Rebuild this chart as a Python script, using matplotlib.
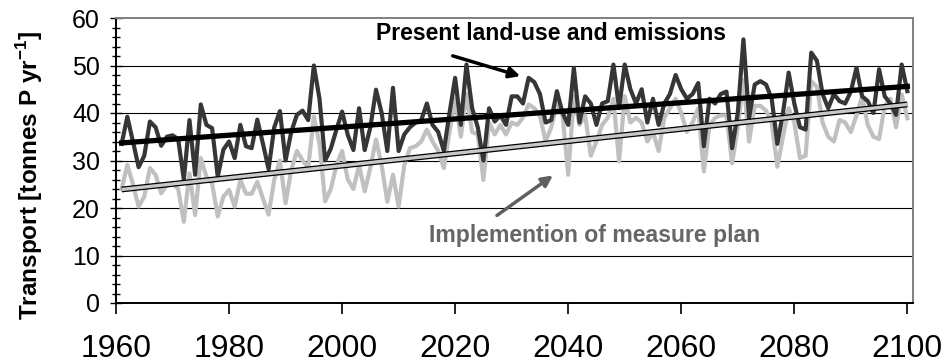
import numpy as np
from matplotlib import use
use('Agg')
import matplotlib.pyplot as plt
from matplotlib.ticker import MultipleLocator

plt.rcParams['font.family'] = ['Liberation Sans', 'DejaVu Sans']
plt.rcParams['mathtext.fontset'] = 'custom'
plt.rcParams['mathtext.rm'] = 'Liberation Sans'
plt.rcParams['mathtext.bf'] = 'Liberation Sans:bold'

# annual transport (1961 - 2100)
years = np.arange(1961, 2101)

present = [
    33.5, 39.2, 34, 28.6, 31, 38.2, 37, 33.1, 35, 35.3,
    34.5, 26, 38.5, 27, 41.8, 37.5, 36.8, 26.6, 32.3, 34,
    30.5, 37.5, 33, 32.6, 38.6, 33.5, 28.2, 37, 40.4, 30,
    36, 39.6, 40.5, 38.5, 50, 43, 30, 32.5, 36.5, 40.3,
    35.4, 32.2, 41, 32.2, 37, 44.9, 40, 32, 45.3, 32,
    35.5, 37, 38, 38.5, 42, 37.5, 36, 32, 40, 47.4,
    37.5, 50.2, 41, 37, 30, 41, 38.2, 39.5, 37.5, 43.5,
    43.5, 42, 47.4, 46.5, 44, 38, 38.5, 44.6, 40, 37.5,
    49.5, 38, 43.5, 42, 37.5, 42, 42.5, 50.2, 41, 50.2,
    45, 42, 45, 38, 43, 37.5, 42, 44, 48, 45,
    43, 44, 46.3, 33, 43, 42, 44, 44.5, 32.6, 40,
    55.5, 39, 46, 46.7, 46, 43, 33.5, 40, 48.5, 42,
    37, 36.5, 52.7, 51, 44, 41, 44, 42.5, 42, 44.5,
    49.5, 43.5, 42.5, 40, 49.2, 43.5, 42, 39.6, 50.2, 44.6,
]

measure = [
    24, 29.1, 25, 20.3, 22.4, 28.4, 27, 23.1, 24.9, 25.2,
    24, 17.1, 27.3, 18.5, 30.5, 26.6, 25.2, 18.2, 22.4, 23.8,
    20.3, 25.9, 23, 23, 25.5, 22, 18.6, 26, 30, 21,
    28, 32, 30, 28.5, 39.3, 33.5, 21.4, 24, 29, 32,
    26, 24, 29, 23.5, 28.5, 34.4, 29, 21.3, 27, 20.3,
    29, 32.6, 33, 34, 36.5, 34, 32, 28.4, 36, 43,
    35, 44, 36, 35.5, 25.9, 38, 35.5, 37.5, 35.5, 38,
    37.5, 39, 41.8, 41, 39.5, 34, 37, 41.8, 39.5, 27,
    43.5, 37.5, 39.5, 31, 34, 37.5, 39, 43, 29.8, 43.5,
    38, 39, 38, 34, 36, 32, 39, 41, 43, 40,
    36, 38, 41, 27.7, 37.5, 39, 39.5, 39.5, 29.4, 37,
    47, 34, 41.5, 41.5, 40.5, 38, 28.7, 35, 41, 38,
    30.5, 31, 46.7, 45.5, 38, 35, 34, 38.5, 38, 36,
    39.5, 43.5, 37.5, 35, 34.5, 41.5, 43, 37, 43.9, 38.9,
]

# linear trend lines, end points
trend_years = [1961, 2100]
trend_present = [33.7, 45.6]
trend_measure = [23.9, 41.8]

fig = plt.figure(figsize=(9.5, 3.64), dpi=100)
ax = fig.add_axes([116 / 950, 1 - 303 / 364, (913 - 116) / 950, (303 - 18) / 364])

for yv in [10, 20, 30, 40, 50]:
    ax.axhline(yv, color='black', lw=0.8, zorder=1)

ax.plot(years, measure, color='#c0c0c0', lw=3.0, zorder=2)
ax.plot(years, present, color='#363636', lw=3.0, zorder=3)
ax.plot(trend_years, trend_measure, color='black', lw=4.2, zorder=4, solid_capstyle='butt')
ax.plot(trend_years, trend_measure, color='#c8c8c8', lw=2.4, zorder=5, solid_capstyle='butt')
ax.plot(trend_years, trend_present, color='black', lw=3.8, zorder=6)

ax.set_xlim(1960, 2101)
ax.set_ylim(0, 60)
ax.set_xticks(np.arange(1960, 2101, 20))
ax.yaxis.set_major_locator(MultipleLocator(10))
ax.yaxis.set_minor_locator(MultipleLocator(2))
ax.tick_params(axis='x', direction='out', length=8, width=1.2, labelsize=23, pad=14)
ax.tick_params(axis='y', which='major', direction='inout', length=9, width=1.0, labelsize=18, pad=7)
ax.tick_params(axis='y', which='minor', direction='inout', length=6, width=1.0)

for s in ['left', 'bottom']:
    ax.spines[s].set_color('black')
    ax.spines[s].set_linewidth(1.4)
for s in ['top', 'right']:
    ax.spines[s].set_color('#808080')
    ax.spines[s].set_linewidth(1.4)

fig.text(30 / 950, 1 - 175 / 364, r'Transport [tonnes P yr$^{\mathbf{-1}}$]', rotation=90,
         ha='center', va='center', fontsize=17.5, fontweight='bold')

ax.text(2037.0, 56.8, 'Present land-use and emissions', ha='center', va='center',
        fontsize=16.6, fontweight='bold', color='black', zorder=8)
ax.annotate('', xy=(2032.0, 47.6), xytext=(2019.1, 52.2),
            arrowprops=dict(arrowstyle='-|>', color='black', lw=2.5, mutation_scale=16), zorder=8)

ax.text(2044.7, 14.2, 'Implemention of measure plan', ha='center', va='center',
        fontsize=16.6, fontweight='bold', color='#666666', zorder=8)
ax.annotate('', xy=(2037.7, 27.2), xytext=(2027.0, 18.1),
            arrowprops=dict(arrowstyle='-|>', color='#606060', lw=2.5, mutation_scale=16), zorder=8)

plt.savefig('out.png', dpi=100)
